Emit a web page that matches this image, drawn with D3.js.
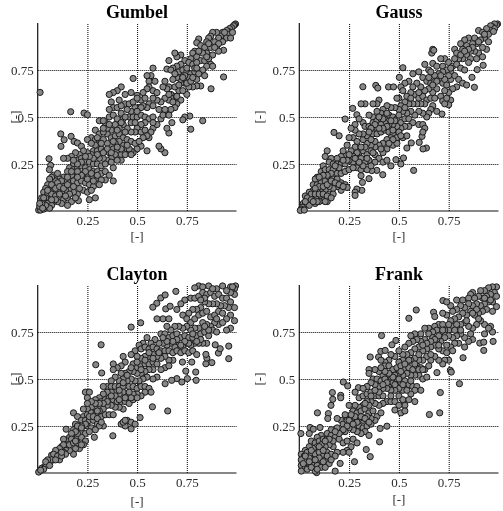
<!DOCTYPE html>
<html><head><meta charset="utf-8">
<script src="https://cdn.jsdelivr.net/npm/d3@7"></script>
<style>
html,body{margin:0;padding:0;background:#fff}
svg{display:block;filter:blur(.4px)}
text{font-family:"Liberation Serif",serif;fill:#2a2a2a}
</style></head><body><svg id="c" width="503" height="511"></svg>
<script>
const tickValues=[.25,.5,.75];
const tickLabels=["0.25","0.5","0.75"];
const gumbel=[[.012,.631],[.166,.528],[.233,.521],[.25,.512],[.116,.41],[.133,.379],[.117,.344],[.168,.397],[.183,.37],[.2,.362],[.22,.344],[.057,.278],[.065,.243],[.059,.22],
[.995,.995],[.99,.99],[.985,.985],[.975,.975],[.965,.97],[.96,.955],[.95,.96],[.94,.93],[.96,.94],[.93,.95],[.92,.93],[.91,.92],[.95,.92],[.97,.92],[.9,.95],[.88,.95],[.87,.93],[.86,.92],[.89,.9],[.93,.9],[.935,.855],[.85,.9],[.81,.915],[.8,.895],[.82,.88],[.84,.87],[.87,.87],[.9,.875],[.91,.85],[.88,.83],[.85,.84],[.83,.84],[.79,.85],[.78,.84],[.77,.81],[.8,.82],[.82,.8],[.84,.8],[.86,.81],[.87,.78],[.85,.77],[.83,.75],[.88,.77],[.935,.713],[.872,.65],[.84,.72],[.8,.7],[.82,.665],[.8,.665],[.78,.66],[.76,.66],[.75,.62],[.74,.68],[.72,.68],[.71,.64],[.69,.61],[.71,.59],[.72,.59],[.7,.57],[.69,.55],[.65,.53],[.67,.54],[.83,.48],[.77,.435],[.765,.505],[.74,.5],[.73,.485],[.675,.47],[.66,.415],[.64,.31],[.62,.33],[.61,.345],[.58,.44],[.56,.39],[.57,.42],[.55,.32],[.52,.345],[.5,.33],[.48,.31],[.47,.32],[.45,.33],
[.72,.83],[.7,.82],[.69,.84],[.74,.8],[.76,.79],[.78,.78],[.72,.78],[.7,.77],[.68,.76],[.66,.8],[.65,.755],[.67,.75],[.71,.74],[.73,.75],[.75,.74],[.77,.73],[.79,.74],[.81,.73],[.76,.71],[.74,.72],[.72,.7],[.7,.71],[.68,.7],[.66,.66],[.64,.69],[.65,.65],[.67,.62],[.69,.66],[.71,.67],[.73,.64],[.75,.68],[.77,.69],[.79,.76],[.67,.6],[.66,.59],[.7,.61],[.68,.58],[.64,.6],[.62,.58],[.6,.59],[.58,.76],[.57,.72],[.55,.72],[.56,.69],[.59,.69],[.56,.66],[.58,.64],[.55,.65],[.48,.705],[.53,.63],[.5,.615],[.52,.59],[.54,.6],[.56,.57],[.58,.56],[.55,.55],[.53,.56],[.51,.55],[.49,.55],[.47,.53],[.45,.54],[.43,.49],[.46,.5],[.48,.5],[.5,.5],[.52,.51],[.54,.5],[.56,.49],[.58,.5],[.62,.49],[.61,.54],[.64,.54],[.63,.51],[.66,.51],[.65,.44],[.6,.46],[.58,.47],[.54,.47],[.52,.46],[.5,.44],[.52,.42],[.54,.43],[.55,.4],[.53,.39],[.49,.42],[.47,.42],[.45,.44],[.43,.46],[.41,.44],[.39,.46],[.37,.43],[.35,.41],[.34,.47],[.31,.48],[.33,.48],[.36,.5],[.38,.51],[.4,.49],[.42,.52],[.44,.57],[.46,.57],[.47,.63],[.44,.62],[.42,.66],[.4,.64],[.38,.63],[.36,.62],[.37,.58],[.38,.55],[.4,.55],[.42,.56],[.41,.59],[.48,.58],[.5,.6],[.36,.54],
[.29,.43],[.27,.39],[.25,.38],[.29,.38],[.31,.41],[.33,.42],[.35,.44],[.37,.39],[.39,.4],[.41,.41],[.43,.39],[.45,.38],[.47,.37],[.49,.36],[.51,.37],[.43,.35],[.41,.37],[.39,.36],[.37,.35],[.35,.36],[.33,.38],[.31,.36],[.29,.35],[.27,.36],[.28,.32],[.3,.32],[.32,.33],[.34,.32],[.36,.31],[.38,.33],[.4,.32],[.42,.3],[.44,.3],[.46,.33],[.47,.3],[.42,.27],[.39,.3],[.37,.28],[.35,.27],[.33,.28],[.31,.28],[.29,.29],[.27,.3],[.25,.31],[.23,.32],[.21,.3],[.19,.31],[.17,.29],[.15,.28],[.13,.28],[.2,.27],[.22,.28],[.24,.27],[.26,.26],[.28,.25],[.3,.25],[.32,.24],[.34,.25],[.38,.23],[.37,.26],[.4,.27],[.18,.25],[.16,.23],[.18,.22],[.2,.23],[.22,.24],[.24,.23],[.26,.22],[.28,.21],[.3,.21],[.32,.2],[.34,.21],[.36,.19],[.38,.16],[.34,.165],[.32,.165],[.31,.14],[.29,.17],[.27,.18],[.25,.19],[.23,.2],[.21,.19],[.19,.2],[.17,.19],[.15,.21],[.13,.18],[.11,.17],[.09,.16],[.08,.19],[.07,.18],[.06,.17],[.1,.2],[.12,.14],[.14,.16],[.16,.15],[.18,.16],[.2,.15],[.22,.16],[.24,.15],[.26,.14],[.28,.13],[.23,.11],[.25,.1],[.27,.11],[.29,.07],[.26,.06],[.205,.055],[.2,.09],[.18,.1],[.16,.12],[.14,.11],[.12,.1],[.1,.11],[.08,.12],[.06,.13],[.05,.14],[.04,.12],[.03,.1],[.05,.09],[.07,.09],[.09,.08],[.11,.07],[.13,.06],[.15,.07],[.17,.05],[.15,.03],[.12,.04],[.1,.05],[.08,.05],[.06,.06],[.04,.07],[.02,.07],[.03,.05],[.05,.04],[.07,.03],[.06,.015],[.03,.03],[.02,.02],[.01,.01],[.005,.005],[.015,.005],[.01,.025],[.03,.01],
[.98,.95],[.94,.95],[.91,.89],[.89,.87],[.86,.89],[.81,.85],[.85,.82],[.8,.79],[.75,.76],[.73,.71],[.78,.71],[.8,.76],[.69,.73],[.63,.66],[.66,.62],[.6,.63],[.58,.6],[.52,.55],[.5,.53],[.44,.5],[.42,.47],[.47,.47],[.49,.47],[.44,.42],[.4,.43],[.36,.46],[.33,.44],[.3,.39],[.32,.36],[.35,.33],[.38,.37],[.42,.33],[.45,.35],[.4,.34],[.37,.31],[.33,.31],[.3,.3],[.28,.28],[.26,.29],[.24,.29],[.22,.26],[.2,.25],[.18,.27],[.24,.21],[.27,.2],[.3,.19],[.28,.16],[.25,.17],[.22,.19],[.2,.21],[.17,.21],[.15,.18],[.12,.16],[.1,.15],[.07,.14],[.09,.12],[.11,.13],[.13,.12],[.16,.09],[.18,.13],[.21,.12],[.19,.07],[.14,.08],[.11,.09],[.09,.06],[.07,.06],[.05,.11],[.03,.07],[.04,.03],[.02,.04],[.01,.04],[.025,.015],[.2,.18],[.15,.14]];
const gauss=[[.319,.661],[.384,.668],[.394,.654],[.448,.66],[.473,.66],[.52,.762],[.502,.711],[.174,.418],[.2,.4],[.23,.489],[.268,.546],[.289,.512],[.574,.216],[.419,.193],[.389,.216],[.364,.215],[.35,.172],[.31,.188],[.317,.152],[.314,.11],[.289,.117],[.28,.1],[.28,.083],[.879,.658],[.867,.711],[.893,.752],[.923,.775],[.716,.516],[.638,.335],[.621,.33],[.602,.365],[.616,.397],[.562,.362],[.54,.335],[.523,.282],[.51,.25],[.485,.273],
[.995,.995],[.99,.99],[.98,.995],[.97,.98],[.96,.985],[.98,.97],[.96,.96],[.94,.97],[.9,.96],[.95,.94],[.92,.95],[.88,.92],[.85,.92],[.83,.91],[.81,.89],[.78,.86],[.93,.92],[.91,.91],[.89,.89],[.87,.89],[.84,.88],[.82,.86],[.79,.84],[.95,.9],[.94,.86],[.92,.87],[.9,.84],[.88,.85],[.86,.85],[.84,.83],[.86,.81],[.89,.81],[.92,.82],[.82,.81],[.8,.81],[.78,.81],[.73,.81],[.71,.81],[.665,.84],[.67,.86],[.675,.855],[.67,.785],[.69,.77],[.63,.78],[.65,.75],[.72,.77],[.75,.79],[.77,.77],[.79,.78],[.81,.76],[.83,.75],[.85,.79],[.76,.74],[.74,.75],[.72,.74],[.7,.73],[.68,.72],[.66,.74],[.6,.74],[.57,.73],[.62,.71],[.64,.69],[.66,.68],[.68,.69],[.7,.7],[.72,.68],[.74,.67],[.76,.7],[.78,.72],[.8,.7],[.82,.68],[.84,.67],[.79,.66],[.77,.65],[.75,.63],[.73,.64],[.71,.61],[.69,.65],[.67,.63],[.65,.65],[.63,.64],[.61,.66],[.59,.68],[.57,.66],[.55,.69],[.53,.68],[.51,.66],[.58,.62],[.56,.63],[.54,.61],[.52,.64],[.5,.6],[.49,.6],[.6,.6],[.62,.61],[.64,.59],[.66,.6],[.68,.6],[.72,.585],[.76,.59],[.75,.565],[.73,.57],[.74,.6],[.63,.57],[.61,.57],[.59,.57],[.57,.57],[.55,.57],[.53,.58],[.51,.56],[.67,.56],[.66,.54],[.65,.52],[.69,.53],[.64,.5],[.62,.52],[.6,.53],[.58,.51],[.56,.53],[.54,.52],[.52,.53],[.5,.54],[.48,.55],[.46,.55],[.44,.56],[.42,.54],[.4,.59],[.39,.57],[.37,.57],[.33,.57],[.31,.57],[.41,.52],[.39,.53],[.37,.5],[.35,.51],[.32,.47],[.3,.49],[.28,.46],[.33,.45],[.35,.45],[.37,.47],[.39,.48],[.41,.49],[.43,.5],[.45,.51],[.47,.5],[.49,.49],[.51,.47],[.53,.49],[.55,.49],[.57,.47],[.6,.46],[.62,.46],[.63,.44],[.62,.42],[.55,.45],[.53,.45],[.51,.44],[.49,.45],[.47,.46],[.45,.46],[.43,.47],[.41,.46],[.39,.44],[.37,.41],[.39,.41],[.41,.42],[.43,.43],[.45,.42],[.47,.41],[.49,.39],[.52,.39],[.54,.4],[.46,.39],[.44,.38],[.42,.36],[.47,.35],[.49,.36],[.44,.33],[.42,.31],[.4,.35],[.38,.34],[.36,.35],[.34,.36],[.32,.38],[.34,.4],[.32,.41],[.3,.41],[.28,.43],[.26,.44],[.27,.39],[.25,.39],[.24,.35],[.29,.37],[.28,.34],[.3,.31],[.32,.32],[.34,.3],[.36,.32],[.38,.3],[.4,.28],[.42,.26],[.44,.27],[.46,.24],[.38,.26],[.35,.27],[.33,.26],[.31,.28],[.29,.25],[.27,.26],[.25,.27],[.26,.32],[.23,.3],[.21,.29],[.22,.32],[.19,.28],[.16,.28],[.14,.32],[.13,.29],[.15,.26],[.17,.25],[.19,.25],[.21,.25],[.23,.25],[.12,.24],[.11,.21],[.13,.22],[.15,.22],[.17,.22],[.19,.2],[.21,.2],[.23,.21],[.25,.22],[.29,.23],[.31,.22],[.34,.22],[.36,.24],[.09,.18],[.08,.17],[.07,.14],[.09,.14],[.11,.15],[.13,.16],[.15,.18],[.17,.17],[.19,.17],[.21,.15],[.23,.14],[.24,.125],[.21,.11],[.19,.13],[.17,.12],[.15,.13],[.13,.11],[.11,.12],[.09,.1],[.07,.11],[.05,.1],[.03,.08],[.05,.07],[.07,.08],[.09,.07],[.11,.08],[.13,.07],[.15,.09],[.17,.09],[.14,.05],[.12,.055],[.1,.05],[.08,.04],[.06,.05],[.04,.05],[.02,.04],[.03,.03],[.05,.03],[.015,.02],[.01,.01],[.005,.003],[.025,.005],
[.975,.955],[.93,.94],[.9,.9],[.87,.87],[.85,.86],[.81,.83],[.83,.85],[.76,.76],[.75,.72],[.73,.7],[.71,.72],[.69,.69],[.67,.67],[.65,.71],[.6,.63],[.56,.6],[.53,.55],[.5,.51],[.48,.48],[.46,.48],[.44,.45],[.42,.44],[.4,.44],[.38,.46],[.36,.44],[.35,.42],[.44,.52],[.42,.49],[.4,.5],[.47,.43],[.5,.42],[.51,.4],[.47,.38],[.45,.36],[.41,.33],[.38,.37],[.36,.38],[.33,.34],[.31,.34],[.29,.31],[.27,.29],[.25,.3],[.24,.27],[.22,.27],[.2,.23],[.18,.24],[.16,.2],[.14,.19],[.12,.19],[.1,.18],[.1,.13],[.12,.13],[.14,.14],[.16,.16],[.18,.15],[.2,.14],[.22,.13],[.08,.12],[.06,.09],[.04,.07],[.06,.06],[.08,.09],[.1,.09],[.12,.09],[.14,.08],[.16,.07],[.13,.05],[.09,.05],[.07,.05],[.03,.05],[.37,.31],[.34,.28],[.32,.24],[.27,.23],[.3,.26],[.28,.28]];
const clayton=[[.319,.682],[.292,.576],[.322,.532],[.47,.776],[.518,.799],[.378,.198],[.285,.19],[.654,.33],[.577,.352],[.515,.295],[.695,.966],[.619,.931],[.641,.947],[.599,.903],[.579,.882],[.644,.873],[.666,.887],[.143,.233],[.961,.608],[.961,.675],[.909,.638],[.918,.661],[.893,.682],[.876,.587],[.846,.581],[.851,.611],[.846,.631],[.797,.493],[.753,.502],[.725,.484],[.7,.502],[.674,.493],[.641,.475],[.795,.537],[.745,.542],[.775,.59],[.728,.59],
[.995,.995],[.99,.98],[.98,.96],[.99,.95],[.96,.97],[.93,.995],[.9,.98],[.86,.995],[.81,.995],[.79,.985],[.83,.99],[.77,.93],[.74,.92],[.79,.93],[.81,.94],[.83,.96],[.85,.95],[.87,.96],[.89,.94],[.91,.95],[.93,.93],[.95,.93],[.97,.91],[.99,.88],[.96,.88],[.94,.89],[.92,.89],[.9,.9],[.88,.9],[.86,.9],[.84,.91],[.82,.88],[.8,.87],[.78,.87],[.76,.85],[.72,.9],[.7,.87],[.73,.84],[.75,.82],[.77,.8],[.79,.82],[.81,.84],[.83,.85],[.85,.86],[.87,.83],[.89,.84],[.91,.86],[.93,.85],[.99,.81],[.97,.77],[.95,.76],[.91,.79],[.89,.8],[.87,.78],[.85,.79],[.83,.8],[.81,.77],[.79,.77],[.77,.76],[.75,.78],[.73,.77],[.71,.78],[.69,.78],[.67,.76],[.65,.78],[.63,.82],[.6,.82],[.66,.82],[.62,.74],[.64,.74],[.66,.72],[.68,.73],[.7,.74],[.72,.72],[.74,.73],[.76,.72],[.78,.72],[.8,.73],[.82,.74],[.84,.75],[.86,.73],[.88,.76],[.9,.75],[.85,.69],[.83,.69],[.81,.69],[.79,.69],[.77,.68],[.75,.69],[.73,.67],[.71,.68],[.69,.67],[.67,.69],[.65,.68],[.63,.69],[.61,.69],[.59,.71],[.57,.69],[.55,.72],[.53,.69],[.51,.68],[.49,.65],[.47,.63],[.52,.66],[.54,.67],[.56,.66],[.58,.67],[.6,.66],[.62,.65],[.64,.65],[.66,.65],[.68,.64],[.7,.65],[.72,.64],[.74,.65],[.76,.64],[.78,.65],[.8,.63],[.68,.6],[.66,.6],[.64,.62],[.62,.61],[.6,.62],[.58,.63],[.56,.62],[.54,.62],[.52,.61],[.5,.62],[.48,.58],[.5,.56],[.52,.57],[.54,.58],[.56,.58],[.58,.59],[.6,.58],[.64,.56],[.66,.57],[.62,.55],[.58,.55],[.56,.55],[.54,.54],[.52,.53],[.5,.53],[.48,.54],[.46,.54],[.44,.53],[.42,.53],[.44,.59],[.43,.62],[.42,.57],[.4,.56],[.38,.58],[.38,.55],[.6,.51],[.58,.5],[.55,.51],[.53,.5],[.51,.49],[.49,.49],[.47,.5],[.45,.49],[.43,.5],[.41,.49],[.39,.51],[.37,.49],[.35,.46],[.33,.46],[.37,.46],[.39,.46],[.41,.46],[.43,.46],[.46,.46],[.48,.46],[.5,.45],[.52,.46],[.54,.46],[.56,.45],[.57,.43],[.54,.43],[.52,.41],[.5,.42],[.49,.4],[.48,.42],[.45,.42],[.43,.43],[.41,.42],[.39,.43],[.37,.43],[.35,.43],[.33,.42],[.31,.4],[.29,.39],[.24,.43],[.26,.43],[.25,.4],[.28,.37],[.3,.37],[.32,.38],[.34,.39],[.36,.4],[.38,.39],[.4,.38],[.42,.38],[.44,.38],[.46,.37],[.43,.34],[.41,.35],[.39,.35],[.37,.36],[.35,.36],[.33,.34],[.31,.33],[.29,.34],[.27,.35],[.25,.34],[.23,.3],[.25,.31],[.27,.32],[.29,.31],[.32,.3],[.34,.31],[.36,.31],[.38,.31],[.18,.32],[.2,.3],[.22,.28],[.24,.28],[.26,.28],[.28,.28],[.3,.26],[.33,.25],[.31,.25],[.42,.26],[.44,.25],[.45,.28],[.43,.27],[.47,.27],[.47,.235],[.49,.26],[.44,.28],[.19,.26],[.21,.25],[.23,.25],[.25,.25],[.27,.24],[.29,.23],[.18,.23],[.2,.22],[.22,.22],[.24,.21],[.26,.22],[.16,.19],[.18,.19],[.2,.19],[.22,.19],[.24,.17],[.23,.15],[.21,.13],[.19,.13],[.17,.16],[.15,.17],[.13,.18],[.18,.1],[.16,.12],[.14,.13],[.12,.14],[.1,.12],[.11,.1],[.13,.11],[.11,.07],[.09,.09],[.07,.095],[.08,.07],[.06,.06],[.05,.05],[.03,.03],[.04,.04],[.02,.025],[.01,.01],[.005,.005],
[.97,.99],[.98,.99],[.97,.84],[.95,.82],[.93,.8],[.97,.96],[.95,.97],[.88,.98],[.84,.93],[.82,.92],[.9,.82],[.86,.76],[.84,.78],[.82,.71],[.8,.7],[.78,.74],[.76,.69],[.74,.7],[.72,.68],[.7,.71],[.68,.7],[.65,.7],[.63,.72],[.61,.64],[.58,.61],[.56,.64],[.54,.6],[.52,.55],[.5,.59],[.47,.56],[.45,.52],[.43,.48],[.41,.44],[.39,.41],[.37,.41],[.35,.38],[.33,.37],[.31,.37],[.29,.37],[.27,.38],[.25,.37],[.23,.34],[.26,.3],[.28,.3],[.3,.29],[.32,.27],[.3,.33],[.24,.26],[.22,.25],[.2,.25],[.22,.24],[.2,.21],[.19,.22],[.17,.21],[.17,.18],[.15,.15],[.13,.15],[.11,.13],[.09,.12],[.08,.1],[.1,.09],[.14,.1],[.12,.09],[.16,.15],[.18,.16],[.2,.16],[.19,.17],[.22,.15],[.07,.07],[.05,.07],[.04,.06],[.06,.04],[.03,.02],[.015,.015],[.09,.07],[.12,.11],[.46,.43],[.48,.39],[.5,.4],[.47,.4],[.44,.4],[.41,.39]];
const frank=[[.587,.867],[.55,.823],[.413,.731],[.721,.917],[.674,.855],[.68,.832],[.804,.475],[.708,.428],[.705,.32],[.653,.311],[.691,.534],[.758,.546],[.763,.537],[.822,.613],[.926,.652],[.906,.691],[.973,.7],[.926,.696],[.356,.617],[.398,.617],[.409,.647],[.431,.652],[.465,.682],[.485,.705],[.221,.484],[.243,.463],[.297,.454],[.166,.428],[.168,.392],[.208,.413],[.208,.4],[.159,.36],[.146,.316],[.143,.29],[.091,.32],[.008,.21],[.054,.242],[.07,.233],[.104,.242],[.44,.249],[.403,.166],[.336,.125],[.356,.087],[.277,.06],[.205,.051],[.18,.01],[.087,.002],[.406,.237],
[.99,.99],[.97,.99],[.95,.985],[.93,.97],[.91,.97],[.87,.96],[.86,.95],[.98,.96],[.99,.94],[.96,.95],[.94,.94],[.92,.93],[.9,.94],[.88,.93],[.85,.93],[.82,.92],[.79,.92],[.76,.89],[.74,.91],[.99,.885],[.97,.91],[.95,.91],[.93,.9],[.91,.89],[.89,.9],[.87,.89],[.85,.9],[.83,.88],[.81,.89],[.79,.87],[.77,.86],[.74,.84],[.72,.85],[.97,.86],[.94,.87],[.92,.86],[.9,.85],[.88,.84],[.86,.86],[.84,.84],[.82,.85],[.8,.83],[.78,.82],[.76,.81],[.7,.79],[.72,.79],[.68,.78],[.65,.77],[.63,.77],[.93,.79],[.91,.81],[.89,.79],[.87,.77],[.97,.75],[.96,.78],[.95,.77],[.93,.74],[.85,.78],[.83,.8],[.81,.79],[.79,.77],[.77,.78],[.75,.76],[.73,.76],[.71,.75],[.69,.76],[.67,.75],[.65,.74],[.61,.74],[.58,.74],[.56,.73],[.87,.71],[.85,.7],[.83,.72],[.81,.74],[.79,.73],[.77,.72],[.75,.73],[.73,.72],[.71,.7],[.69,.71],[.67,.72],[.63,.71],[.61,.7],[.59,.71],[.57,.7],[.55,.69],[.53,.67],[.83,.67],[.8,.69],[.78,.69],[.76,.67],[.74,.68],[.72,.65],[.7,.66],[.68,.68],[.66,.67],[.64,.66],[.62,.65],[.6,.67],[.58,.66],[.56,.64],[.54,.63],[.52,.63],[.5,.65],[.77,.65],[.75,.6],[.73,.6],[.72,.58],[.7,.6],[.68,.62],[.66,.6],[.64,.62],[.62,.6],[.6,.6],[.58,.61],[.56,.6],[.54,.58],[.52,.6],[.5,.59],[.48,.62],[.46,.63],[.45,.6],[.43,.59],[.41,.6],[.43,.57],[.45,.57],[.47,.55],[.49,.56],[.51,.57],[.53,.55],[.55,.56],[.57,.55],[.59,.57],[.61,.56],[.63,.55],[.65,.57],[.6,.52],[.62,.5],[.64,.51],[.58,.52],[.56,.52],[.54,.53],[.52,.52],[.5,.53],[.48,.52],[.46,.51],[.44,.52],[.42,.52],[.4,.54],[.38,.55],[.35,.55],[.35,.53],[.37,.5],[.39,.5],[.41,.49],[.43,.5],[.45,.47],[.47,.48],[.49,.49],[.51,.48],[.53,.49],[.55,.47],[.57,.46],[.59,.46],[.61,.44],[.58,.44],[.56,.42],[.52,.44],[.5,.45],[.48,.44],[.46,.44],[.44,.45],[.42,.45],[.4,.46],[.38,.47],[.36,.48],[.34,.46],[.32,.45],[.28,.43],[.3,.4],[.32,.41],[.34,.42],[.36,.43],[.38,.41],[.4,.41],[.42,.41],[.44,.38],[.46,.38],[.48,.38],[.5,.41],[.52,.39],[.55,.39],[.58,.38],[.53,.36],[.5,.36],[.48,.335],[.51,.32],[.53,.33],[.42,.37],[.4,.36],[.38,.37],[.36,.38],[.34,.38],[.32,.36],[.3,.35],[.28,.36],[.25,.36],[.27,.33],[.29,.32],[.31,.33],[.33,.34],[.35,.32],[.37,.33],[.39,.3],[.41,.32],[.38,.28],[.36,.29],[.34,.3],[.32,.28],[.3,.29],[.28,.3],[.26,.31],[.23,.31],[.21,.28],[.19,.29],[.22,.26],[.24,.28],[.26,.27],[.28,.25],[.3,.25],[.32,.24],[.34,.25],[.36,.26],[.33,.22],[.35,.2],[.31,.21],[.29,.22],[.27,.23],[.25,.24],[.23,.22],[.21,.22],[.19,.24],[.16,.23],[.14,.21],[.11,.2],[.09,.19],[.05,.21],[.06,.17],[.08,.16],[.1,.17],[.12,.18],[.14,.18],[.16,.2],[.18,.19],[.2,.18],[.22,.16],[.24,.17],[.27,.18],[.29,.16],[.26,.14],[.24,.12],[.22,.11],[.25,.11],[.19,.11],[.17,.14],[.15,.15],[.13,.14],[.11,.15],[.09,.14],[.07,.13],[.05,.14],[.03,.12],[.01,.1],[.025,.09],[.04,.11],[.06,.1],[.08,.1],[.1,.11],[.12,.09],[.14,.11],[.16,.1],[.18,.09],[.13,.07],[.15,.05],[.11,.06],[.09,.07],[.07,.07],[.05,.08],[.03,.06],[.01,.07],[.01,.04],[.03,.03],[.05,.05],[.07,.04],[.09,.04],[.11,.03],[.13,.03],[.08,.01],[.01,.01],[.04,.02],
[.96,.92],[.93,.93],[.89,.87],[.87,.85],[.84,.81],[.81,.76],[.79,.79],[.75,.79],[.72,.76],[.7,.73],[.68,.71],[.66,.7],[.64,.69],[.62,.68],[.6,.63],[.58,.58],[.55,.6],[.53,.58],[.51,.54],[.49,.5],[.47,.51],[.45,.53],[.43,.54],[.41,.56],[.44,.48],[.42,.47],[.4,.43],[.38,.44],[.36,.41],[.35,.36],[.33,.37],[.31,.3],[.29,.27],[.33,.29],[.35,.27],[.25,.28],[.24,.25],[.27,.26],[.22,.23],[.2,.21],[.18,.22],[.17,.17],[.15,.18],[.13,.17],[.1,.14],[.12,.12],[.14,.09],[.16,.07],[.1,.08],[.08,.07],[.06,.12],[.05,.06],[.03,.09],[.02,.05],[.06,.03],[.12,.06],[.09,.02],[.46,.41],[.48,.47],[.5,.5],[.52,.47],[.54,.44],[.56,.49],[.6,.55],[.62,.55],[.66,.63],[.7,.68],[.74,.64],[.78,.76],[.86,.74],[.9,.82]];
const panelNames=["Gumbel","Gauss","Clayton","Frank"];
const panelData=[gumbel,gauss,clayton,frank];
const xLabelText="[-]", yLabelText="[-]";

const svg=d3.select("#c");
const lefts=[37.7,299.3], widths=[198.8,199.2];
const tops=[23,285], bottoms=[211,473];
const xLabelY=[241,241,506,504];
const yLabelX=[20,264];

panelData.forEach((pts,i)=>{
  const col=i%2,row=i>>1;
  const x=d3.scaleLinear().domain([0,1]).range([lefts[col],lefts[col]+widths[col]]);
  const y=d3.scaleLinear().domain([0,1]).range([bottoms[row],tops[row]]);
  const g=svg.append("g");
  const fmt=v=>tickLabels[tickValues.indexOf(v)];
  const h=bottoms[row]-tops[row];
  const gx=g.append("g").attr("transform",`translate(0,${bottoms[row]})`)
    .call(d3.axisBottom(x).tickValues(tickValues).tickFormat(fmt).tickSize(-h).tickPadding(5));
  const gy=g.append("g").attr("transform",`translate(${lefts[col]},0)`)
    .call(d3.axisLeft(y).tickValues(tickValues).tickFormat(fmt).tickSize(-widths[col]).tickPadding(4));
  [gx,gy].forEach(a=>{
    a.selectAll("text").attr("font-size",13).attr("font-family","Liberation Serif").attr("fill","#2a2a2a");
    a.selectAll(".tick line").attr("stroke","#000").attr("stroke-dasharray","1,1");
    a.select(".domain").attr("stroke","#111").attr("stroke-width",1.2).attr("d",a===gx?`M${lefts[col]},0H${lefts[col]+widths[col]}`:`M0,${bottoms[row]}V${tops[row]}`);
  });
  g.append("g").selectAll("circle").data(pts).join("circle")
    .attr("cx",d=>x(d[0])).attr("cy",d=>y(d[1])).attr("r",3.1)
    .attr("fill","#878787").attr("stroke","#1a1a1a").attr("stroke-width",1);
  g.append("text").attr("x",x(.5)).attr("y",tops[row]-5).attr("text-anchor","middle")
    .attr("font-size",18).attr("font-weight","bold").style("fill","#000").text(panelNames[i]);
  g.append("text").attr("x",x(.5)).attr("y",xLabelY[i]).attr("text-anchor","middle")
    .attr("font-size",13).text(xLabelText);
  g.append("text").attr("transform",`translate(${yLabelX[col]},${y(.5)}) rotate(-90)`)
    .attr("text-anchor","middle").attr("font-size",13).text(yLabelText);
});
</script></body></html>
